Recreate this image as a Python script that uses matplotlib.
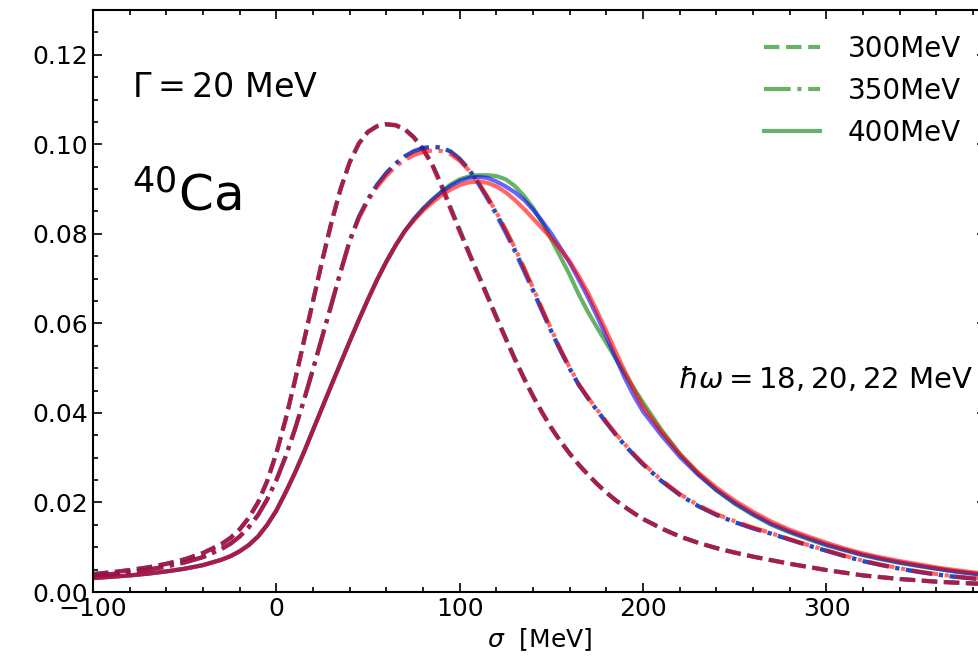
import numpy as np
import matplotlib
matplotlib.use('Agg')
import matplotlib.pyplot as plt
from matplotlib.ticker import MultipleLocator, FormatStrFormatter

plt.rcParams['font.family'] = 'DejaVu Sans'
plt.rcParams['mathtext.fontset'] = 'dejavusans'

# sigma grid [MeV], finer around the peaks
sigma = [-100, -90, -80, -70, -60, -50, -40, -30,
         -25, -20, -15, -10, -5, 0, 5, 10, 15, 20,
         25, 30, 35, 40, 45, 50, 55, 60, 65, 70,
         75, 80, 85, 90, 95, 100, 105, 110, 115, 120,
         125, 130, 135, 140, 145, 150, 155, 160, 165, 170,
         175, 180, 185, 190, 195, 200,
         210, 220, 230, 240, 250, 260, 270, 280, 290, 300,
         310, 320, 330, 340, 350, 360, 370, 380, 390]

# 300 MeV (dashed), hw = 18, 20, 22 MeV
d300_18 = [0.0040, 0.0044, 0.0049, 0.0055, 0.0063, 0.0073, 0.0087, 0.0107,
           0.0121, 0.0140, 0.0166, 0.0200, 0.0248, 0.0310, 0.0385, 0.0470, 0.0560, 0.0650,
           0.0740, 0.0825, 0.0900, 0.0960, 0.1002, 0.1028, 0.1040, 0.1044, 0.1042, 0.1033,
           0.1015, 0.0989, 0.0956, 0.0911, 0.0860, 0.0810, 0.0760, 0.0712, 0.0664, 0.0616,
           0.0569, 0.0523, 0.0479, 0.0438, 0.0401, 0.0367, 0.0336, 0.0309, 0.0284, 0.0262,
           0.0241, 0.0222, 0.0205, 0.0190, 0.0176, 0.0163,
           0.0142, 0.0124, 0.0110, 0.0098, 0.0088, 0.0079, 0.0071, 0.0063, 0.0056, 0.0049,
           0.0043, 0.0037, 0.0033, 0.0029, 0.0026, 0.0023, 0.0021, 0.0019, 0.0018]
d300_20 = [0.0040, 0.0044, 0.0049, 0.0055, 0.0063, 0.0073, 0.0087, 0.0107,
           0.0121, 0.0140, 0.0166, 0.0200, 0.0248, 0.0310, 0.0385, 0.0470, 0.0560, 0.0650,
           0.0740, 0.0825, 0.0900, 0.0960, 0.1002, 0.1028, 0.1041, 0.1045, 0.1043, 0.1034,
           0.1016, 0.0990, 0.0955, 0.0908, 0.0856, 0.0806, 0.0757, 0.0709, 0.0661, 0.0613,
           0.0566, 0.0520, 0.0477, 0.0437, 0.0400, 0.0366, 0.0336, 0.0309, 0.0284, 0.0262,
           0.0241, 0.0222, 0.0205, 0.0190, 0.0176, 0.0163,
           0.0142, 0.0124, 0.0110, 0.0098, 0.0088, 0.0079, 0.0071, 0.0063, 0.0056, 0.0049,
           0.0043, 0.0037, 0.0033, 0.0029, 0.0026, 0.0023, 0.0021, 0.0019, 0.0018]
d300_22 = [0.0040, 0.0044, 0.0049, 0.0055, 0.0063, 0.0073, 0.0087, 0.0107,
           0.0121, 0.0140, 0.0166, 0.0200, 0.0248, 0.0310, 0.0385, 0.0470, 0.0560, 0.0650,
           0.0740, 0.0825, 0.0900, 0.0960, 0.1002, 0.1028, 0.1041, 0.1045, 0.1043, 0.1034,
           0.1015, 0.0988, 0.0953, 0.0906, 0.0855, 0.0805, 0.0756, 0.0708, 0.0660, 0.0612,
           0.0566, 0.0520, 0.0477, 0.0437, 0.0400, 0.0366, 0.0336, 0.0309, 0.0284, 0.0262,
           0.0241, 0.0222, 0.0205, 0.0190, 0.0176, 0.0163,
           0.0142, 0.0124, 0.0110, 0.0098, 0.0088, 0.0079, 0.0071, 0.0063, 0.0056, 0.0049,
           0.0043, 0.0037, 0.0033, 0.0029, 0.0026, 0.0023, 0.0021, 0.0019, 0.0018]

# 350 MeV (dash-dot)
d350_18 = [0.0036, 0.0040, 0.0044, 0.0050, 0.0057, 0.0066, 0.0078, 0.0096,
           0.0108, 0.0124, 0.0145, 0.0172, 0.0207, 0.0250, 0.0302, 0.0362, 0.0428, 0.0498,
           0.0570, 0.0642, 0.0715, 0.0785, 0.0838, 0.0878, 0.0910, 0.0936, 0.0957, 0.0973,
           0.0984, 0.0991, 0.0994, 0.0992, 0.0984, 0.0968, 0.0945, 0.0916, 0.0883, 0.0847,
           0.0808, 0.0766, 0.0722, 0.0676, 0.0629, 0.0583, 0.0540, 0.0500, 0.0462, 0.0433,
           0.0405, 0.0378, 0.0352, 0.0328, 0.0306, 0.0285,
           0.0248, 0.0217, 0.0192, 0.0172, 0.0156, 0.0142, 0.0130, 0.0117, 0.0104, 0.0092,
           0.0080, 0.0069, 0.0060, 0.0052, 0.0045, 0.0039, 0.0034, 0.0030, 0.0027]
d350_20 = [0.0036, 0.0040, 0.0044, 0.0050, 0.0057, 0.0066, 0.0078, 0.0096,
           0.0108, 0.0124, 0.0145, 0.0172, 0.0207, 0.0250, 0.0302, 0.0362, 0.0428, 0.0498,
           0.0570, 0.0642, 0.0715, 0.0785, 0.0838, 0.0878, 0.0910, 0.0936, 0.0957, 0.0973,
           0.0985, 0.0992, 0.0995, 0.0993, 0.0984, 0.0967, 0.0943, 0.0913, 0.0879, 0.0842,
           0.0803, 0.0761, 0.0717, 0.0672, 0.0626, 0.0581, 0.0538, 0.0498, 0.0462, 0.0432,
           0.0405, 0.0378, 0.0352, 0.0328, 0.0306, 0.0285,
           0.0248, 0.0217, 0.0192, 0.0172, 0.0156, 0.0142, 0.0130, 0.0117, 0.0104, 0.0092,
           0.0080, 0.0069, 0.0060, 0.0052, 0.0045, 0.0039, 0.0034, 0.0030, 0.0027]
d350_22 = [0.0036, 0.0040, 0.0044, 0.0050, 0.0057, 0.0066, 0.0078, 0.0096,
           0.0108, 0.0124, 0.0145, 0.0172, 0.0207, 0.0250, 0.0302, 0.0362, 0.0428, 0.0498,
           0.0570, 0.0642, 0.0715, 0.0783, 0.0835, 0.0874, 0.0905, 0.0930, 0.0950, 0.0965,
           0.0976, 0.0983, 0.0986, 0.0985, 0.0978, 0.0963, 0.0942, 0.0915, 0.0883, 0.0848,
           0.0810, 0.0769, 0.0725, 0.0679, 0.0632, 0.0586, 0.0542, 0.0501, 0.0464, 0.0434,
           0.0407, 0.0380, 0.0354, 0.0330, 0.0308, 0.0287,
           0.0250, 0.0219, 0.0194, 0.0174, 0.0158, 0.0144, 0.0131, 0.0118, 0.0105, 0.0093,
           0.0081, 0.0070, 0.0061, 0.0053, 0.0046, 0.0040, 0.0035, 0.0031, 0.0028]

# 400 MeV (solid)
d400_18 = [0.0031, 0.0034, 0.0037, 0.0041, 0.0046, 0.0052, 0.0060, 0.0072,
           0.0080, 0.0091, 0.0105, 0.0124, 0.0150, 0.0182, 0.0222, 0.0265, 0.0312, 0.0362,
           0.0412, 0.0462, 0.0511, 0.0560, 0.0608, 0.0654, 0.0698, 0.0738, 0.0774, 0.0806,
           0.0833, 0.0856, 0.0876, 0.0894, 0.0910, 0.0922, 0.0928, 0.0931, 0.0931, 0.0929,
           0.0922, 0.0907, 0.0885, 0.0858, 0.0825, 0.0787, 0.0748, 0.0708, 0.0664, 0.0625,
           0.0590, 0.0556, 0.0522, 0.0488, 0.0455, 0.0423,
           0.0362, 0.0309, 0.0264, 0.0227, 0.0197, 0.0172, 0.0150, 0.0133, 0.0118, 0.0104,
           0.0093, 0.0082, 0.0073, 0.0065, 0.0058, 0.0052, 0.0046, 0.0041, 0.0036]
d400_20 = [0.0031, 0.0034, 0.0037, 0.0041, 0.0046, 0.0052, 0.0060, 0.0072,
           0.0080, 0.0091, 0.0105, 0.0124, 0.0150, 0.0182, 0.0222, 0.0265, 0.0312, 0.0362,
           0.0412, 0.0462, 0.0511, 0.0560, 0.0608, 0.0654, 0.0698, 0.0738, 0.0774, 0.0806,
           0.0833, 0.0856, 0.0876, 0.0893, 0.0907, 0.0918, 0.0925, 0.0927, 0.0925, 0.0917,
           0.0906, 0.0893, 0.0876, 0.0854, 0.0828, 0.0800, 0.0768, 0.0735, 0.0697, 0.0658,
           0.0615, 0.0570, 0.0524, 0.0478, 0.0438, 0.0403,
           0.0350, 0.0302, 0.0262, 0.0228, 0.0199, 0.0174, 0.0152, 0.0135, 0.0120, 0.0106,
           0.0094, 0.0083, 0.0074, 0.0066, 0.0059, 0.0052, 0.0046, 0.0041, 0.0037]
d400_22 = [0.0031, 0.0034, 0.0037, 0.0041, 0.0046, 0.0052, 0.0060, 0.0072,
           0.0080, 0.0091, 0.0105, 0.0124, 0.0150, 0.0182, 0.0222, 0.0265, 0.0312, 0.0362,
           0.0412, 0.0462, 0.0511, 0.0560, 0.0608, 0.0654, 0.0698, 0.0738, 0.0774, 0.0806,
           0.0830, 0.0852, 0.0870, 0.0886, 0.0899, 0.0909, 0.0915, 0.0917, 0.0914, 0.0906,
           0.0893, 0.0876, 0.0856, 0.0834, 0.0812, 0.0790, 0.0765, 0.0738, 0.0705, 0.0668,
           0.0626, 0.0582, 0.0537, 0.0493, 0.0452, 0.0414,
           0.0358, 0.0308, 0.0267, 0.0233, 0.0204, 0.0179, 0.0157, 0.0139, 0.0124, 0.0110,
           0.0097, 0.0086, 0.0077, 0.0069, 0.0062, 0.0055, 0.0049, 0.0044, 0.0040]

energies = ['300MeV', '350MeV', '400MeV']
styles = ['--', '-.', '-']
curves = [[d300_18, d300_20, d300_22],
          [d350_18, d350_20, d350_22],
          [d400_18, d400_20, d400_22]]
colors = ['g', 'b', 'r']  # hw = 18, 20, 22 MeV

fig = plt.figure(figsize=(9.79, 6.63), dpi=100)
ax = fig.add_axes([93 / 979, 71 / 663, 893 / 979, 582 / 663])

for label, ls, group in zip(energies, styles, curves):
    for i, (c, vals) in enumerate(zip(colors, group)):
        ax.plot(sigma, vals, ls=ls, color=c, alpha=0.6, lw=3,
                label=label if i == 0 else None)

ax.set_xlim(-100, 387)
ax.set_ylim(0, 0.13)
ax.xaxis.set_major_locator(MultipleLocator(100))
ax.xaxis.set_minor_locator(MultipleLocator(20))
ax.yaxis.set_major_locator(MultipleLocator(0.02))
ax.yaxis.set_minor_locator(MultipleLocator(0.005))
ax.yaxis.set_major_formatter(FormatStrFormatter('%.2f'))
ax.tick_params(which='both', direction='in', top=True, right=True, labelsize=18, width=1.2)
ax.tick_params(which='major', length=6.5)
ax.tick_params(which='minor', length=3.5)
for s in ax.spines.values():
    s.set_linewidth(1.5)

ax.set_xlabel(r'$\sigma$  [MeV]', fontsize=18, labelpad=4)

ax.text(0.044, 0.866, r'$\Gamma = 20$ MeV', transform=ax.transAxes,
        fontsize=24, va='center', ha='left')
ax.text(0.044, 0.656, r'$^{40}$Ca', transform=ax.transAxes,
        fontsize=36, va='baseline', ha='left')
ax.text(219, 0.0474, r'$\hbar\omega = 18, 20, 22$ MeV', fontsize=21,
        va='center', ha='left')

ax.legend(loc='upper right', fontsize=20, frameon=False, handletextpad=1.0)

fig.savefig('out.png', dpi=100)
